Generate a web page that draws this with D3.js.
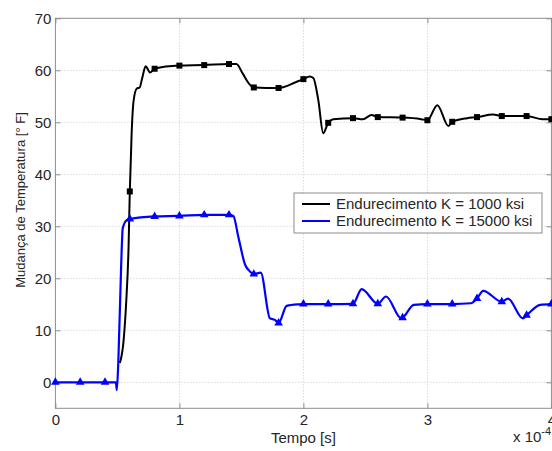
<!DOCTYPE html>
<html>
<head>
<meta charset="utf-8">
<script src="https://cdnjs.cloudflare.com/ajax/libs/d3/7.8.5/d3.min.js"></script>
<style>
  body { margin: 0; background: #fff; }
  text { font-family: Arial, "Liberation Sans", sans-serif; fill: #262626; }
</style>
</head>
<body>
<script>
// time in units of 1e-4 s, temperature change in deg F
var softT = [0.52,0.55,0.57,0.59,0.6,0.615,0.63,0.656,0.68,0.7,0.728,0.763,0.8,1.0,1.2,1.4,1.46,1.51,1.57,1.6,1.8,1.946,2.0,2.05,2.08,2.12,2.16,2.2,2.24,2.4,2.48,2.55,2.6,2.8,2.95,3.0,3.08,3.17,3.2,3.32,3.4,3.53,3.6,3.8,3.93,4.0];
var softV = [3.7,8,15,26,36.7,48,54,56.5,56.7,58.5,60.8,59.6,60.3,60.9,61.0,61.2,61.2,59.4,57.2,56.7,56.6,57.8,58.3,58.8,58.5,54.3,47.9,49.9,50.6,50.8,50.6,51.4,51.0,50.9,50.6,50.4,53.3,49.3,50.1,50.8,51.0,51.5,51.2,51.2,50.6,50.6];

var hardT = [0,0.2,0.4,0.488,0.495,0.507,0.53,0.543,0.575,0.6,0.8,1.0,1.2,1.4,1.435,1.475,1.53,1.57,1.6,1.656,1.73,1.77,1.8,1.865,1.96,2.0,2.2,2.4,2.47,2.6,2.666,2.79,2.8,2.89,3.0,3.2,3.35,3.4,3.45,3.6,3.65,3.77,3.8,3.91,4.0];
var hardV = [0,0,0,0,-1.5,3.6,22.2,29.6,31.2,31.4,31.9,32.0,32.2,32.2,32.0,28,22.6,21.3,20.8,21.1,12.3,12.0,11.4,14.7,15.0,15.05,15.05,15.1,17.9,15.1,16.5,12.3,12.4,14.9,15.05,15.05,15.2,16.1,17.6,15.5,16.1,12.3,12.9,14.9,15.05];

var xTicks = [0,1,2,3,4];
var yTicks = [0,10,20,30,40,50,60,70];
var legendLabels = ["Endurecimento K = 1000 ksi", "Endurecimento K = 15000 ksi"];

var W = 552, H = 451;
var pLeft = 55.4, pRight = 551.4, pTop = 18.3, pBottom = 408.3;
var axisColor = "#8c8c8c";
var font = "Arial, 'Liberation Sans', sans-serif";

var svg = d3.select("body").append("svg").attr("width", W).attr("height", H);

var x = d3.scaleLinear().domain([0, 4]).range([pLeft, pRight]);
var y = d3.scaleLinear().domain([-5, 70]).range([pBottom, pTop]);

// grid
var grid = svg.append("g");
grid.selectAll("line.gx").data(xTicks.slice(1, -1)).enter().append("line")
  .attr("x1", function(d){ return x(d); }).attr("x2", function(d){ return x(d); })
  .attr("y1", pTop).attr("y2", pBottom)
  .attr("stroke", "#c8c8c8").attr("stroke-dasharray", "1,2");
grid.selectAll("line.gy").data(yTicks.slice(0, -1)).enter().append("line")
  .attr("y1", function(d){ return y(d); }).attr("y2", function(d){ return y(d); })
  .attr("x1", pLeft).attr("x2", pRight)
  .attr("stroke", "#c8c8c8").attr("stroke-dasharray", "1,2");

// axes (ticks pointing inward)
var xAxis = svg.append("g").attr("transform", "translate(0," + pBottom + ")")
  .call(d3.axisBottom(x).tickValues(xTicks).tickSize(-5).tickPadding(6).tickFormat(d3.format("d")));
var yAxis = svg.append("g").attr("transform", "translate(" + pLeft + ",0)")
  .call(d3.axisLeft(y).tickValues(yTicks).tickSize(-5).tickPadding(4).tickFormat(d3.format("d")));
var xTop = svg.append("g").attr("transform", "translate(0," + pTop + ")")
  .call(d3.axisTop(x).tickValues(xTicks).tickSize(-5).tickFormat(""));
var yRight = svg.append("g").attr("transform", "translate(" + pRight + ",0)")
  .call(d3.axisRight(y).tickValues(yTicks).tickSize(-5).tickFormat(""));

[xAxis, yAxis, xTop, yRight].forEach(function(g){
  g.select(".domain").remove();
  g.selectAll(".tick line").attr("stroke", axisColor);
  g.selectAll(".tick text").attr("font-size", 15).attr("font-family", font).attr("fill", "#262626");
});
svg.append("rect").attr("x", pLeft).attr("y", pTop)
  .attr("width", pRight - pLeft).attr("height", pBottom - pTop)
  .attr("fill", "none").attr("stroke", axisColor);

// series
var softData = softT.map(function(t, i){ return [t, softV[i]]; });
var hardData = hardT.map(function(t, i){ return [t, hardV[i]]; });

var line = d3.line()
  .x(function(d){ return x(d[0]); })
  .y(function(d){ return y(d[1]); })
  .curve(d3.curveMonotoneX);

function onMarker(d){ return Math.abs(d[0] * 5 - Math.round(d[0] * 5)) < 1e-6; }

svg.append("path").datum(softData).attr("d", line)
  .attr("fill", "none").attr("stroke", "#000").attr("stroke-width", 2);
svg.selectAll("rect.sq").data(softData.filter(onMarker)).enter().append("rect")
  .attr("x", function(d){ return x(d[0]) - 3; })
  .attr("y", function(d){ return y(d[1]) - 3; })
  .attr("width", 6).attr("height", 6).attr("fill", "#000");

svg.append("path").datum(hardData).attr("d", line)
  .attr("fill", "none").attr("stroke", "#0000ff").attr("stroke-width", 2.2);
var tri = d3.symbol().type(d3.symbolTriangle).size(32);
svg.selectAll("path.tri").data(hardData.filter(onMarker)).enter().append("path")
  .attr("d", tri)
  .attr("transform", function(d){ return "translate(" + x(d[0]) + "," + y(d[1]) + ")"; })
  .attr("fill", "#0000ff");

// labels
svg.append("text").attr("x", (pLeft + pRight) / 2).attr("y", 443)
  .attr("text-anchor", "middle").attr("font-size", 15).text("Tempo [s]");
svg.append("text").attr("transform", "translate(25,200) rotate(-90)")
  .attr("text-anchor", "middle").attr("font-size", 13).text("Mudança de Temperatura [° F]");
var exp = svg.append("text").attr("x", 513).attr("y", 442).attr("font-size", 15);
exp.append("tspan").text("x 10");
exp.append("tspan").attr("dy", -7).attr("font-size", 11).text("-4");

// legend
var lg = svg.append("g").attr("transform", "translate(294,193)");
lg.append("rect").attr("width", 248).attr("height", 40)
  .attr("fill", "#fff").attr("stroke", axisColor);
var colors = ["#000", "#0000ff"];
legendLabels.forEach(function(label, i){
  var yy = 11 + i * 17;
  lg.append("line").attr("x1", 8).attr("x2", 36).attr("y1", yy).attr("y2", yy)
    .attr("stroke", colors[i]).attr("stroke-width", 2);
  lg.append("text").attr("x", 42).attr("y", yy + 5.3).attr("font-size", 15).text(label);
});
</script>
</body>
</html>
